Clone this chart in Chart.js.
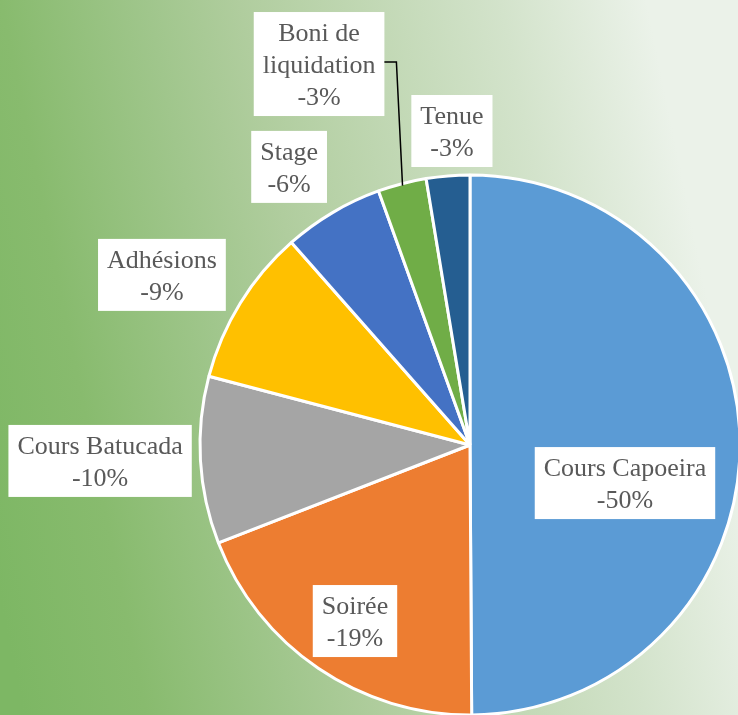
<!DOCTYPE html>
<html>
<head>
<meta charset="utf-8">
<script src="https://cdn.jsdelivr.net/npm/chart.js@4.4.0/dist/chart.umd.min.js"></script>
<style>
html,body{margin:0;padding:0;overflow:hidden;background:#fff;}
canvas{display:block;}
</style>
</head>
<body>
<canvas id="c" width="738" height="715"></canvas>
<script>
// ---- data ----
const categories = ['Cours Capoeira', 'Soirée', 'Cours Batucada', 'Adhésions', 'Stage', 'Boni de liquidation', 'Tenue'];
const values = [-49.9, -19.2, -10.0, -9.4, -6.0, -2.9, -2.6];
const sliceColors = ['#5B9BD5', '#ED7D31', '#A5A5A5', '#FFC000', '#4472C4', '#70AD47', '#255E91'];

// ---- label layout (offsets from pie centre, in radius units) ----
const labelOffsets = [[0.574, 0.141], [-0.426, 0.652], [-1.370, 0.059], [-1.141, -0.630], [-0.670, -1.030], [-0.559, -1.411], [-0.067, -1.163]];
const labelWrap = [null, null, null, null, null, 130, null];
const labelLeader = [false, false, false, false, false, true, false];

const FONT = '26px "Liberation Serif", "Times New Roman", serif';
const LINE_H = 32;
const PAD_Y = 4;

function wrapText(ctx, text, maxW) {
  if (!maxW) return [text];
  const words = text.split(' ');
  const lines = [];
  let cur = '';
  words.forEach(w => {
    const t = cur ? cur + ' ' + w : w;
    if (cur && ctx.measureText(t).width > maxW) { lines.push(cur); cur = w; }
    else cur = t;
  });
  if (cur) lines.push(cur);
  return lines;
}

const bgPlugin = {
  id: 'bg',
  beforeDraw(chart) {
    const {ctx, width, height} = chart;
    const g = ctx.createLinearGradient(0, 600, 738, 450);
    g.addColorStop(0, '#7db764');
    g.addColorStop(0.16, '#88bb6e');
    g.addColorStop(0.35, '#a0c68c');
    g.addColorStop(0.47, '#b0cd9e');
    g.addColorStop(0.81, '#d3e3cb');
    g.addColorStop(1, '#ebf2e9');
    ctx.save();
    ctx.fillStyle = g;
    ctx.fillRect(0, 0, width, height);
    ctx.restore();
  }
};

const labelPlugin = {
  id: 'labels',
  afterDatasetsDraw(chart) {
    const ctx = chart.ctx;
    const meta = chart.getDatasetMeta(0);
    const total = values.reduce((s, v) => s + Math.abs(v), 0);
    ctx.save();
    ctx.font = FONT;
    meta.data.forEach((arc, i) => {
      const p = arc.getProps(['x', 'y', 'outerRadius', 'startAngle', 'endAngle'], true);
      const R = p.outerRadius;
      const cx = p.x + labelOffsets[i][0] * R;
      const cy = p.y + labelOffsets[i][1] * R;
      const pct = Math.sign(values[i]) * Math.round(Math.abs(values[i]) / total * 100);
      const lines = wrapText(ctx, categories[i], labelWrap[i]).concat([pct + '%']);
      const tw = Math.max(...lines.map(l => ctx.measureText(l).width));
      const bw = tw + 18;
      const bh = lines.length * LINE_H + PAD_Y * 2;
      const bx = cx - bw / 2, by = cy - bh / 2;
      ctx.fillStyle = '#ffffff';
      ctx.fillRect(bx, by, bw, bh);
      ctx.fillStyle = '#595959';
      ctx.textAlign = 'center';
      ctx.textBaseline = 'middle';
      lines.forEach((l, k) => {
        ctx.fillText(l, cx, by + PAD_Y + LINE_H * (k + 0.5) + 2);
      });
      if (labelLeader[i]) {
        const mid = (p.startAngle + p.endAngle) / 2;
        const ex = p.x + Math.cos(mid) * (R - 2);
        const ey = p.y + Math.sin(mid) * (R - 2);
        const sy = cy - 2;
        ctx.strokeStyle = '#000000';
        ctx.lineWidth = 1.5;
        ctx.beginPath();
        ctx.moveTo(bx + bw, sy);
        ctx.lineTo(bx + bw + 12, sy);
        ctx.lineTo(ex, ey);
        ctx.stroke();
      }
    });
    ctx.restore();
  }
};

new Chart(document.getElementById('c'), {
  type: 'pie',
  data: {
    labels: categories,
    datasets: [{
      data: values,
      backgroundColor: sliceColors,
      borderColor: '#ffffff',
      borderWidth: 3,
      radius: 270
    }]
  },
  options: {
    responsive: false,
    animation: false,
    layout: {padding: {left: 202, right: 0, top: 175, bottom: 0}},
    plugins: {legend: {display: false}, tooltip: {enabled: false}}
  },
  plugins: [bgPlugin, labelPlugin]
});
</script>
</body>
</html>
